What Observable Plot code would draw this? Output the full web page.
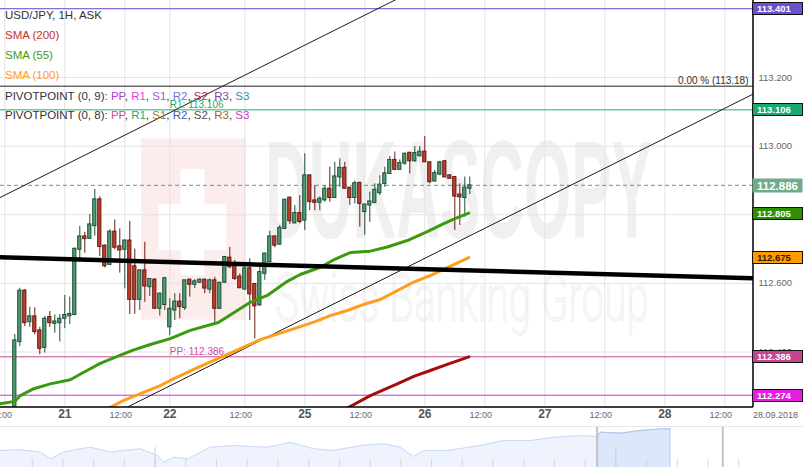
<!DOCTYPE html>
<html><head><meta charset="utf-8">
<script src="https://cdn.jsdelivr.net/npm/d3@7"></script>
<script src="https://cdn.jsdelivr.net/npm/@observablehq/plot@0.6"></script>
<style>
html,body{margin:0;padding:0;background:#fff;}
#wrap{position:relative;width:803px;height:467px;overflow:hidden;font-family:"Liberation Sans",Arial,sans-serif;}
#wm{position:absolute;left:0;top:0;}
#main{position:absolute;left:0;top:0;}
#nav{position:absolute;left:0;top:426px;width:803px;height:41px;border-top:1px solid #e6e6e6;box-sizing:border-box;}
.lg{position:absolute;left:5px;font-size:11.5px;line-height:14px;white-space:nowrap;color:#333;}
</style></head><body>
<div id="wrap">
<svg id="wm" width="803" height="427" font-family="Liberation Sans, Arial, sans-serif">
  <rect x="141" y="138.5" width="105" height="181" fill="#fcecec"/>
  <rect x="180.7" y="169" width="23.7" height="106" fill="#fff"/>
  <rect x="158.7" y="204.4" width="67.7" height="45.7" fill="#fff"/>
  <text class="wmt" data-x="265" data-y="238" data-w="387" font-size="139" font-weight="bold" fill="#f0f0f0">DUKASCOPY</text>
  <text class="wmt" data-x="275" data-y="321" data-w="374" font-size="66" font-family="Roboto, Liberation Sans, sans-serif" font-weight="300" fill="#f7f7f7" stroke="#f0f0f0" stroke-width="1">Swiss Banking Group</text>
</svg>
<div id="main"></div>
<div id="nav"></div>
<div id="legend"></div>
</div>
<script>
// ---------- candles (1H bars, index = bar number) ----------
const candleOpen = [
112.230,112.429,112.579,112.487,112.504,112.463,112.412,112.502,112.482,112.484,
112.497,112.504,112.508,112.698,112.737,112.730,112.767,112.845,112.710,112.654,
112.751,112.708,112.698,112.725,112.650,112.552,112.638,112.589,112.611,112.526,
112.537,112.472,112.521,112.547,112.528,112.611,112.596,112.602,112.611,112.582,
112.609,112.526,112.602,112.675,112.651,112.620,112.582,112.644,112.598,112.536,
112.628,112.662,112.737,112.713,112.759,112.850,112.775,112.805,112.783,112.915,
112.842,112.835,112.842,112.876,112.849,112.909,112.937,112.879,112.849,112.893,
112.808,112.827,112.834,112.863,112.890,112.919,112.960,112.931,112.949,112.981,
112.956,112.971,112.984,112.953,112.897,112.917,112.956,112.915,112.910,112.859,
112.849,112.876];
const candleHigh = [
112.451,112.586,112.582,112.531,112.529,112.472,112.504,112.518,112.508,112.509,
112.565,112.560,112.703,112.766,112.749,112.801,112.874,112.852,112.712,112.756,
112.785,112.759,112.727,112.781,112.700,112.640,112.720,112.613,112.614,112.572,
112.618,112.555,112.570,112.570,112.609,112.612,112.611,112.613,112.612,112.613,
112.618,112.603,112.678,112.705,112.667,112.628,112.652,112.672,112.600,112.652,
112.688,112.752,112.738,112.769,112.845,112.851,112.827,112.856,112.978,112.916,
112.885,112.852,112.885,112.939,112.953,112.963,112.953,112.880,112.898,112.895,
112.831,112.866,112.890,112.914,112.939,112.970,112.983,112.960,112.980,112.982,
112.999,112.999,113.028,112.954,112.929,112.956,112.958,112.916,112.911,112.890,
112.910,112.910];
const candleLow = [
112.225,112.416,112.474,112.472,112.450,112.392,112.397,112.472,112.455,112.429,
112.468,112.480,112.506,112.665,112.688,112.728,112.738,112.678,112.645,112.652,
112.698,112.630,112.584,112.509,112.510,112.521,112.545,112.562,112.524,112.505,
112.521,112.448,112.492,112.497,112.521,112.560,112.585,112.600,112.570,112.570,
112.477,112.524,112.600,112.643,112.609,112.584,112.580,112.492,112.438,112.533,
112.609,112.660,112.704,112.711,112.757,112.772,112.774,112.774,112.754,112.812,
112.812,112.812,112.837,112.837,112.848,112.880,112.876,112.827,112.832,112.764,
112.740,112.778,112.833,112.856,112.880,112.918,112.929,112.930,112.944,112.919,
112.953,112.968,112.953,112.890,112.896,112.914,112.909,112.905,112.754,112.769,
112.793,112.859];
const candleClose = [
112.434,112.579,112.484,112.504,112.458,112.409,112.497,112.484,112.489,112.497,
112.508,112.511,112.701,112.737,112.729,112.772,112.845,112.706,112.650,112.751,
112.704,112.696,112.725,112.552,112.552,112.638,112.591,112.613,112.526,112.570,
112.615,112.526,112.547,112.531,112.609,112.596,112.606,112.611,112.585,112.609,
112.526,112.602,112.677,112.647,112.613,112.586,112.644,112.568,112.533,112.633,
112.687,112.737,112.710,112.762,112.844,112.781,112.805,112.779,112.915,112.837,
112.835,112.847,112.876,112.849,112.912,112.937,112.876,112.849,112.892,112.832,
112.830,112.839,112.873,112.888,112.921,112.960,112.931,112.951,112.978,112.956,
112.980,112.984,112.953,112.895,112.922,112.953,112.909,112.905,112.853,112.851,
112.879,112.886];

// ---------- moving averages (bar index, price) ----------
const sma55Bar = [-2.9,0,1.1,3.8,7.1,11.1,13.8,17.1,20.5,23.8,27.1,31.1,35.1,40.7,44.5,47.1,50.5,54.5,57.1,61.1,64.1,67.1,71.1,74.5,78.5,82.5,85.8,88.5,90.8];
const sma55Val = [112.249,112.256,112.273,112.293,112.307,112.319,112.341,112.367,112.387,112.406,112.422,112.439,112.463,112.486,112.521,112.545,112.565,112.606,112.626,112.647,112.671,112.690,112.694,112.706,112.725,112.751,112.774,112.792,112.805];
const sma100Bar = [17.1,19.1,21.8,29.1,31.1,37.1,43.1,49.1,53.1,56.5,59.8,63.1,66.5,69.8,73.1,76.5,79.8,83.1,86.5,90.8];
const sma100Val = [112.227,112.239,112.259,112.302,112.317,112.358,112.397,112.436,112.455,112.471,112.487,112.506,112.521,112.539,112.553,112.579,112.604,112.623,112.646,112.675];
const sma200Bar = [65.1,66.8,71.1,76.5,79.8,83.1,86.5,90.8];
const sma200Val = [112.227,112.239,112.273,112.307,112.329,112.346,112.364,112.386];

// ---------- drawn trend lines (bar index, price) ----------
const channelLowBar = [20, 150];
const channelLowVal = [112.221, 113.169];
const channelHighBar = [-3, 80];
const channelHighVal = [112.850, 113.455];
const thickLineBar = [-3, 148];
const thickLineVal = [112.676, 112.615];

// ---------- horizontal levels ----------
const levelVal = [113.401, 113.175, 113.106, 112.386, 112.274];
const levelColor = ["#7357d6", "#222222", "#1fae78", "#c2478f", "#d82ad8"];
const lastPrice = 112.886;
const fibLevel = 113.175;
const fibText = "0.00 % (113.18)";
const pivotLabelVal = [113.106, 112.386];
const pivotLabelText = ["R1: 113.106", "PP: 112.386"];
const pivotLabelColor = ["#1aab72", "#d04e9c"];
const pivotLabelBar = 31;

// ---------- right price tags ----------
const tagVal = [113.401, 113.106, 112.886, 112.805, 112.675, 112.386, 112.274];
const tagFill = ["#6e50cf", "#19aa74", "#72aa8c", "#2f8f02", "#ff9a00", "#c2458e", "#e21fe2"];
const tagInk = ["#fff", "#fff", "#fff", "#fff", "#2b2200", "#fff", "#fff"];

// ---------- axes ----------
const yGrid = [112.4, 112.6, 112.8, 113.0, 113.2, 113.4];
const yTickLabels = [112.4, 112.6, 113.0, 113.2];   // 112.8 and 113.4 sit under price tags
const dayTickBar = [10, 31, 58, 82, 106, 130];
const dayTickLabel = ["21", "22", "25", "26", "27", "28"];
const hourTickBar = [-2, 22, 46, 70, 94, 118, 142];
const hourTickLabel = ["12:00", "12:00", "12:00", "12:00", "12:00", "12:00", "12:00"];
const dateLabel = "28.09.2018";

// ---------- legend ----------
const legendText = ["USD/JPY, 1H, ASK", "SMA (200)", "SMA (55)", "SMA (100)"];
const legendColor = ["#333333", "#c62f2a", "#3b9a14", "#ff9b1f"];
const pivotNames = ["PP", "R1", "S1", "R2", "S2", "R3", "S3"];
const pivot9Color = ["#b13bd1", "#e23fe0", "#b24fd2", "#7272d2", "#b3285a", "#8c3ba9", "#2f8fb2"];
const pivot8Color = ["#d04e9c", "#1aab72", "#9a7a32", "#3a5ac2", "#505050", "#9a6a30", "#d030c8"];

// ---------- navigator ----------
const navStep = [-1.03,-0.38,0.27,0.60,1.02,1.57,1.90,2.55,2.97,3.53,4.08,4.28,4.60,5.06,5.80,6.55,7.66,8.41,9.16,9.81,10.69,11.44,11.99,12.41,12.74,13.52,14.59,15.34,16.22,16.97,17.85,18.40,18.50,19.15,19.80,20.55,20.76];
const navVal = [111.32,111.37,111.19,110.68,111.19,111.45,111.57,111.19,111.32,111.45,110.94,110.42,110.81,110.68,111.57,111.70,111.57,111.95,111.45,111.32,111.70,111.83,111.57,110.86,111.32,111.32,111.70,112.08,112.08,112.33,112.46,112.39,112.72,112.64,112.85,112.98,112.96];
const navTickStep = d3.range(0, 24);
const navTallTickStep = [4, 19];
const navHandleStep = [18.39, 22.48];
const navWindowStart = 18.4;

// ---------- watermark: squeeze text to its target width with a transform ----------
document.querySelectorAll("#wm .wmt").forEach(t => {
  const w = t.getComputedTextLength() || 1;
  const sx = (+t.dataset.w) / w;
  t.setAttribute("transform", `translate(${t.dataset.x},${t.dataset.y}) scale(${sx},1)`);
});

// ================= build =================
const candles = candleOpen.map((o, i) => ({k: i, o, h: candleHigh[i], l: candleLow[i], c: candleClose[i]}));
const up = candles.filter(d => d.c >= d.o);
const down = candles.filter(d => d.c < d.o);
const pts = (ks, vs) => ks.map((k, i) => ({k, v: vs[i]}));

function tagsMark(index, scales, values, dims) {
  const g = d3.create("svg:g").attr("text-anchor", "start");
  const x0 = dims.width - dims.marginRight;
  tagVal.forEach((v, i) => {
    const y = Math.round(scales.y(v));
    const big = i === 2;
    const h = big ? 14 : 12;
    g.append("rect")
      .attr("x", x0 - 0.5).attr("y", y - h / 2 + 0.5)
      .attr("width", 50).attr("height", h)
      .attr("fill", tagFill[i])
      .attr("stroke", big ? "none" : "#111").attr("stroke-width", 1);
    g.append("text")
      .attr("text-anchor", "start")
      .attr("x", x0 + 4).attr("y", y + 1).attr("dy", "0.35em")
      .attr("fill", tagInk[i])
      .attr("font-size", big ? 11.5 : 9.5)
      .attr("font-weight", "bold")
      .text(v.toFixed(3));
  });
  return g.node();
}
function frameMark(index, scales, values, dims) {
  const g = d3.create("svg:g").attr("stroke", "#000").attr("stroke-width", 1.5);
  const r = dims.width - dims.marginRight, b = dims.height - dims.marginBottom;
  g.append("line").attr("x1", 0).attr("x2", r).attr("y1", b).attr("y2", b);
  g.append("line").attr("x1", r).attr("x2", r).attr("y1", 0).attr("y2", b);
  return g.node();
}

const main = Plot.plot({
  width: 803, height: 427,
  marginTop: 0, marginRight: 50, marginBottom: 20, marginLeft: 0,
  x: {type: "linear", domain: [-2.86, 147.74], axis: null},
  y: {domain: [112.2382, 113.4248], axis: null},
  style: {background: "transparent", fontFamily: "Liberation Sans, Arial, sans-serif", overflow: "visible"},
  marks: [
    Plot.ruleX(dayTickBar.concat(hourTickBar), {stroke: "#e3e3e3"}),
    Plot.ruleY(yGrid, {stroke: "#e3e3e3"}),
    Plot.ruleY(levelVal, {y: d => d, stroke: (d, i) => levelColor[i], strokeWidth: 1}),
    Plot.ruleY([lastPrice], {stroke: "#5f9b7c", strokeDasharray: "4,3"}),
    Plot.line(pts(channelLowBar, channelLowVal), {x: "k", y: "v", stroke: "#1a1a1a", strokeWidth: 1, clip: true}),
    Plot.line(pts(channelHighBar, channelHighVal), {x: "k", y: "v", stroke: "#1a1a1a", strokeWidth: 1, clip: true}),
    Plot.ruleX(up, {x: "k", y1: "l", y2: "h", stroke: "#1f4f36", clip: true}),
    Plot.ruleX(down, {x: "k", y1: "l", y2: "h", stroke: "#6a1c12", clip: true}),
    Plot.rect(up, {x1: d => d.k - 0.32, x2: d => d.k + 0.32, y1: "o", y2: "c", fill: "#4f9d74", stroke: "#1f4f36", strokeWidth: 1, clip: true}),
    Plot.rect(down, {x1: d => d.k - 0.32, x2: d => d.k + 0.32, y1: "o", y2: "c", fill: "#c43c2c", stroke: "#5e1b12", strokeWidth: 1, clip: true}),
    Plot.line(pts(sma200Bar, sma200Val), {x: "k", y: "v", stroke: "#a50d0d", strokeWidth: 3, clip: true}),
    Plot.line(pts(sma100Bar, sma100Val), {x: "k", y: "v", stroke: "#ff9d1c", strokeWidth: 3, clip: true}),
    Plot.line(pts(sma55Bar, sma55Val), {x: "k", y: "v", stroke: "#3c9a0e", strokeWidth: 3, clip: true}),
    Plot.line(pts(thickLineBar, thickLineVal), {x: "k", y: "v", stroke: "#000", strokeWidth: 4.5, clip: true}),
    Plot.text(pivotLabelVal, {y: d => d, x: pivotLabelBar, textAnchor: "start", dy: -5, text: (d, i) => pivotLabelText[i], fill: (d, i) => pivotLabelColor[i], fontSize: 10}),
    Plot.text([fibLevel], {y: d => d, frameAnchor: "right", dx: -5, dy: -5, textAnchor: "end", text: () => fibText, fill: "#333", fontSize: 10}),
    Plot.text(yTickLabels, {y: d => d, frameAnchor: "right", dx: 5, textAnchor: "start", text: d => d.toFixed(3), fill: "#666", fontSize: 9.5}),
    Plot.text(dayTickBar, {x: d => d, frameAnchor: "bottom", textAnchor: "middle", dy: 10, text: (d, i) => dayTickLabel[i], fill: "#555", fontSize: 12, fontWeight: "bold"}),
    Plot.text(hourTickBar, {x: d => d, frameAnchor: "bottom", textAnchor: "middle", dy: 10, dx: -4, text: (d, i) => hourTickLabel[i], fill: "#666", fontSize: 9}),
    Plot.text([dateLabel], {frameAnchor: "bottom-right", textAnchor: "middle", dx: 22, dy: 10, text: d => d, fill: "#666", fontSize: 9}),
    frameMark,
    tagsMark
  ]
});
document.getElementById("main").appendChild(main);

const navPts = navStep.map((j, i) => ({j, v: navVal[i]}));
const navWin = navPts.filter(d => d.j >= navWindowStart);
const navLo = 110.018;
const nav = Plot.plot({
  width: 803, height: 40,
  marginTop: 0, marginRight: 0, marginBottom: 0, marginLeft: 0,
  x: {domain: [-1.032, 25.108], axis: null},
  y: {domain: [navLo, 113.077], axis: null},
  style: {background: "transparent"},
  marks: [
    Plot.areaY(navPts, {x: "j", y1: navLo, y2: "v", fill: "#eef3fd"}),
    Plot.line(navPts, {x: "j", y: "v", stroke: "#c9daf5", strokeWidth: 1}),
    Plot.areaY(navWin, {x: "j", y1: navLo, y2: "v", fill: "#dce7fb"}),
    Plot.line(navWin, {x: "j", y: "v", stroke: "#a9c4f0", strokeWidth: 1}),
    Plot.ruleX([navWin[navWin.length - 1]], {x: "j", y1: navLo, y2: "v", stroke: "#a9c4f0"}),
    Plot.ruleX(navTickStep, {y1: navLo, y2: 110.63, stroke: "#d6d6d6"}),
    Plot.ruleX(navTallTickStep, {y1: navLo, y2: 111.547, stroke: "#cfcfcf"}),
    Plot.ruleX(navHandleStep, {stroke: "#c2c2c2", strokeWidth: 2})
  ]
});
document.getElementById("nav").appendChild(nav);

// legend
const lg = document.getElementById("legend");
const legendTop = [8, 28, 48, 68];
legendText.forEach((t, i) => {
  const d = document.createElement("div");
  d.className = "lg"; d.style.top = legendTop[i] + "px"; d.style.color = legendColor[i];
  d.textContent = t; lg.appendChild(d);
});
[["PIVOTPOINT (0, 9): ", pivot9Color, 89], ["PIVOTPOINT (0, 8): ", pivot8Color, 108]].forEach(([head, cols, top]) => {
  const d = document.createElement("div");
  d.className = "lg"; d.style.top = top + "px";
  d.appendChild(document.createTextNode(head));
  pivotNames.forEach((n, i) => {
    const s = document.createElement("span");
    s.style.color = cols[i]; s.textContent = n;
    d.appendChild(s);
    if (i < pivotNames.length - 1) d.appendChild(document.createTextNode(", "));
  });
  lg.appendChild(d);
});
</script>
</body></html>
